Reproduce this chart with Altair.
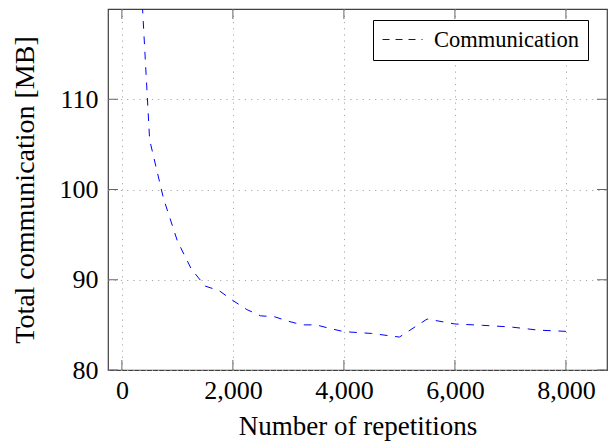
import altair as alt
import pandas as pd

reps = [250, 500, 750, 1000, 1250, 1500, 1750, 2000, 2250, 2500, 2750, 3000,
        3250, 3500, 3750, 4000, 4500, 5000, 5500, 6000, 6500, 7000, 7500, 8000]
comm = [134.0, 105.5, 99.0, 94.3, 91.2, 89.3, 88.8, 87.7, 86.7, 86.0, 85.9, 85.4,
        85.0, 85.0, 84.6, 84.25, 84.05, 83.65, 85.65, 85.1, 84.95, 84.77, 84.42, 84.28]
series = ["Communication"] * len(reps)
x_ticks = [0, 2000, 4000, 6000, 8000]
y_ticks = [80, 90, 100, 110]

W, H = 499, 361
FONT = "Liberation Serif"

df = pd.DataFrame({"reps": reps, "comm": comm, "series": series})
xt = pd.DataFrame({"reps": x_ticks})
yt = pd.DataFrame({"comm": y_ticks})

common = dict(labelFont=FONT, labelFontSize=26, labelColor="black",
              titleFont=FONT, titleFontWeight="normal", titleColor="black",
              grid=True, gridColor="#a8a8a8", gridDash=[1.2, 5], gridWidth=1,
              ticks=False, domain=False)

xscale = alt.Scale(domain=[-250, 8740], nice=False, zero=False)
yscale = alt.Scale(domain=[80, 120], nice=False, zero=False)
xaxis = alt.Axis(values=x_ticks, format=",d", title="Number of repetitions",
                 labelPadding=7, titleFontSize=27, titleBaseline="alphabetic",
                 titleY=64, **common)
yaxis = alt.Axis(values=y_ticks, format="d", title="Total communication [MB]",
                 labelPadding=10, titleFontSize=28, titleBaseline="alphabetic",
                 titleX=-75, titleAngle=270, **common)

X = alt.X("reps:Q", scale=xscale, axis=xaxis)
Y = alt.Y("comm:Q", scale=yscale, axis=yaxis)

line = alt.Chart(df).mark_line(strokeDash=[7.7, 7.7], strokeWidth=1, clip=True).encode(
    x=X, y=Y,
    color=alt.Color("series:N",
                    scale=alt.Scale(domain=["Communication"], range=["#0000ff"]),
                    legend=alt.Legend(title=None, orient="none", legendX=265, legendY=11,
                                      strokeColor="black", fillColor="white", padding=9,
                                      symbolType="stroke", symbolSize=1600,
                                      symbolStrokeWidth=1, symbolDash=[7, 6],
                                      clipHeight=21,
                                      labelFont=FONT, labelFontSize=22.5,
                                      labelColor="black", labelOffset=11)),
)

tick_style = dict(color="#666666", strokeWidth=1)
bottom = alt.Chart(xt).mark_rule(**tick_style).encode(x=X, y=alt.value(H), y2=alt.value(H - 10))
top = alt.Chart(xt).mark_rule(**tick_style).encode(x=X, y=alt.value(0), y2=alt.value(10))
left = alt.Chart(yt).mark_rule(**tick_style).encode(y=Y, x=alt.value(0), x2=alt.value(10))
right = alt.Chart(yt).mark_rule(**tick_style).encode(y=Y, x=alt.value(W), x2=alt.value(W - 10))

chart = alt.layer(line, bottom, top, left, right).properties(
    width=W, height=H,
    autosize="none",
    padding={"left": 108, "top": 9, "right": 4, "bottom": 71},
    background="white",
).configure_view(
    stroke="#404040", strokeWidth=1.2
)

chart.save("out.html", embed_options={"renderer": "svg", "actions": False})
